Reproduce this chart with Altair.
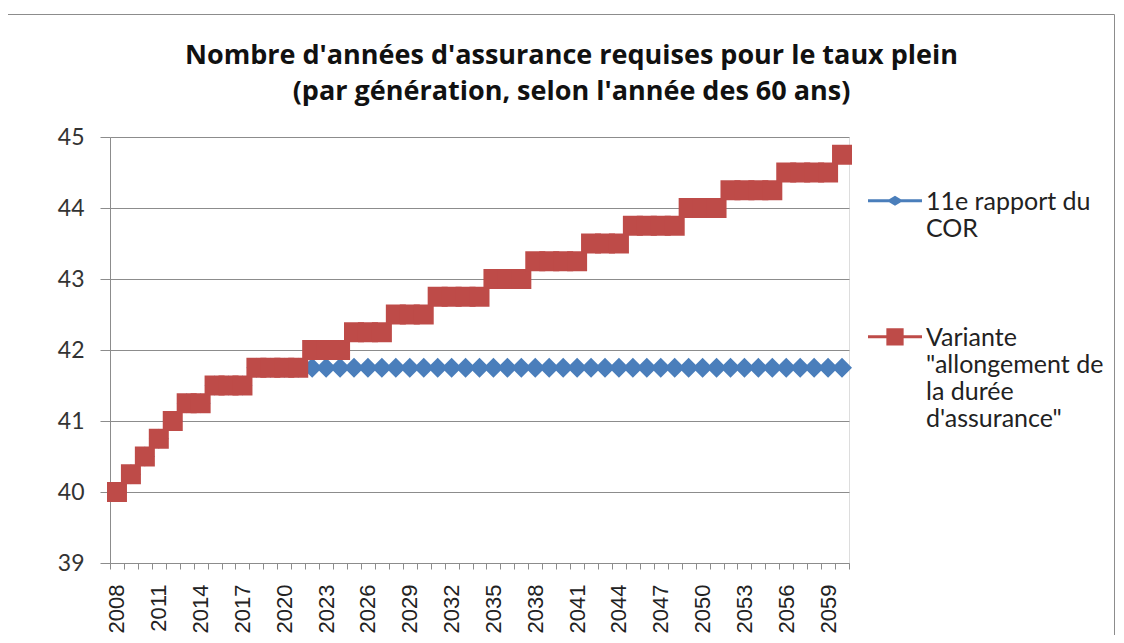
import json
import altair as alt
import pandas as pd

# ---------------- data ----------------
years = [2008, 2009, 2010, 2011, 2012, 2013, 2014, 2015, 2016, 2017,
         2018, 2019, 2020, 2021, 2022, 2023, 2024, 2025, 2026, 2027,
         2028, 2029, 2030, 2031, 2032, 2033, 2034, 2035, 2036, 2037,
         2038, 2039, 2040, 2041, 2042, 2043, 2044, 2045, 2046, 2047,
         2048, 2049, 2050, 2051, 2052, 2053, 2054, 2055, 2056, 2057,
         2058, 2059, 2060]

cor = [40, 40.25, 40.5, 40.75, 41, 41.25, 41.25, 41.5, 41.5, 41.5,
       41.75, 41.75, 41.75, 41.75, 41.75, 41.75, 41.75, 41.75, 41.75, 41.75,
       41.75, 41.75, 41.75, 41.75, 41.75, 41.75, 41.75, 41.75, 41.75, 41.75,
       41.75, 41.75, 41.75, 41.75, 41.75, 41.75, 41.75, 41.75, 41.75, 41.75,
       41.75, 41.75, 41.75, 41.75, 41.75, 41.75, 41.75, 41.75, 41.75, 41.75,
       41.75, 41.75, 41.75]

variante = [40, 40.25, 40.5, 40.75, 41, 41.25, 41.25, 41.5, 41.5, 41.5,
            41.75, 41.75, 41.75, 41.75, 42, 42, 42, 42.25, 42.25, 42.25,
            42.5, 42.5, 42.5, 42.75, 42.75, 42.75, 42.75, 43, 43, 43,
            43.25, 43.25, 43.25, 43.25, 43.5, 43.5, 43.5, 43.75, 43.75, 43.75,
            43.75, 44, 44, 44, 44.25, 44.25, 44.25, 44.25, 44.5, 44.5,
            44.5, 44.5, 44.75]

series_names = ["11e rapport du COR", "Variante \"allongement de la durée d'assurance\""]
legend_lines = [["11e rapport du", "COR"],
                ["Variante", "\"allongement de", "la durée", "d'assurance\""]]

label_years = [2008, 2011, 2014, 2017, 2020, 2023, 2026, 2029, 2032, 2035,
               2038, 2041, 2044, 2047, 2050, 2053, 2056, 2059]
y_ticks = [39, 40, 41, 42, 43, 44, 45]

title_lines = ["Nombre d'années d'assurance requises pour le taux plein",
               "(par génération, selon l'année des 60 ans)"]

# ---------------- styles ----------------
BLUE = "#4A7EBB"
RED = "#BE4B48"
GRID = "#8C8C8C"

rows = []
for s, vals in zip(series_names, [cor, variante]):
    for yr, v in zip(years, vals):
        rows.append({"year": yr, "value": v, "series": s})
df = pd.DataFrame(rows)

x_enc = alt.X(
    "year:O",
    bandPosition=0.5,
    scale=alt.Scale(type="band", paddingInner=0, paddingOuter=0),
    axis=alt.Axis(
        title=None,
        labelAngle=-90,
        labelExpr=f"indexof({json.dumps(label_years)}, datum.value) >= 0 ? datum.label : ''",
        labelOverlap=False,
        tickBand="extent",
        tickSize=6,
        tickColor=GRID,
        domainColor=GRID,
        labelFont="Liberation Sans",
        labelFontSize=22,
        labelColor="#222222",
        labelPadding=15,
        grid=False,
    ),
)
y_enc = alt.Y(
    "value:Q",
    scale=alt.Scale(domain=[39, 45], nice=False, zero=False),
    axis=alt.Axis(
        title=None,
        values=y_ticks,
        grid=True,
        gridColor=GRID,
        tickColor=GRID,
        domainColor=GRID,
        tickSize=10,
        labelFont="Lato",
        labelFontSize=23,
        labelColor="#333333",
        labelPadding=16,
    ),
)

base = alt.Chart(df).encode(x=x_enc, y=y_enc)

f_cor = alt.datum.series == series_names[0]
f_var = alt.datum.series == series_names[1]

blue_line = base.transform_filter(f_cor).mark_line(color=BLUE, strokeWidth=3)
blue_pts = base.transform_filter(f_cor).mark_point(
    shape="diamond", filled=True, size=400, color=BLUE, opacity=1)
red_line = base.transform_filter(f_var).mark_line(color=RED, strokeWidth=3)
red_pts = base.transform_filter(f_var).mark_point(
    shape="square", filled=True, size=400, color=RED, opacity=1)

# legend symbols: a line with a marker (custom paths)
path_cor = ("M-1,0.345L1,0.345L1,0.455L-1,0.455Z"
            "M-0.31,0.4L0,0.215L0.31,0.4L0,0.585Z")
path_var = ("M-1,0.345L1,0.345L1,0.455L-1,0.455Z"
            "M-0.32,0.08L0.32,0.08L0.32,0.72L-0.32,0.72Z")

label_expr = (f"datum.label == {json.dumps(series_names[0])} ? {json.dumps(legend_lines[0])} : "
              f"{json.dumps(legend_lines[1])}")

leg = alt.Legend(
    title=None,
    orient="none",
    legendX=758,
    legendY=26,
    padding=0,
    symbolSize=2916,
    symbolStrokeWidth=0,
    symbolOpacity=1,
    labelFont="Lato",
    labelFontSize=25,
    labelColor="#222222",
    labelBaseline="top",
    labelOffset=4,
    labelLimit=400,
    labelExpr=label_expr,
    rowPadding=57,
)

legend_layer = base.transform_filter("false").mark_point(filled=True, opacity=1).encode(
    color=alt.Color("series:N", scale=alt.Scale(domain=series_names, range=[BLUE, RED]), legend=leg),
    shape=alt.Shape("series:N", scale=alt.Scale(domain=series_names, range=[path_cor, path_var]), legend=leg),
)

frame = alt.Chart(pd.DataFrame({"k": [0]})).mark_rect(
    fill=None, stroke="#8C8C8C", strokeWidth=1
).encode(
    x=alt.value(-102.5), x2=alt.value(1004.5), y=alt.value(-122.5), y2=alt.value(76.5 + 426)
)

chart = alt.layer(frame, blue_line, blue_pts, red_line, red_pts, legend_layer).properties(
    width=739,
    height=426,
    autosize=alt.AutoSizeParams(type="none"),
    padding={"left": 102, "top": 129, "right": 267, "bottom": 72},
    title=alt.TitleParams(
        text=title_lines,
        font="Open Sans",
        fontSize=27,
        fontWeight="bold",
        color="#111111",
        anchor="middle",
        dx=92,
        offset=-92,
        lineHeight=36,
        frame="group",
    ),
).configure_view(stroke=None).configure(background="white")

chart.save("out.html", embed_options={"renderer": "svg", "actions": False})
